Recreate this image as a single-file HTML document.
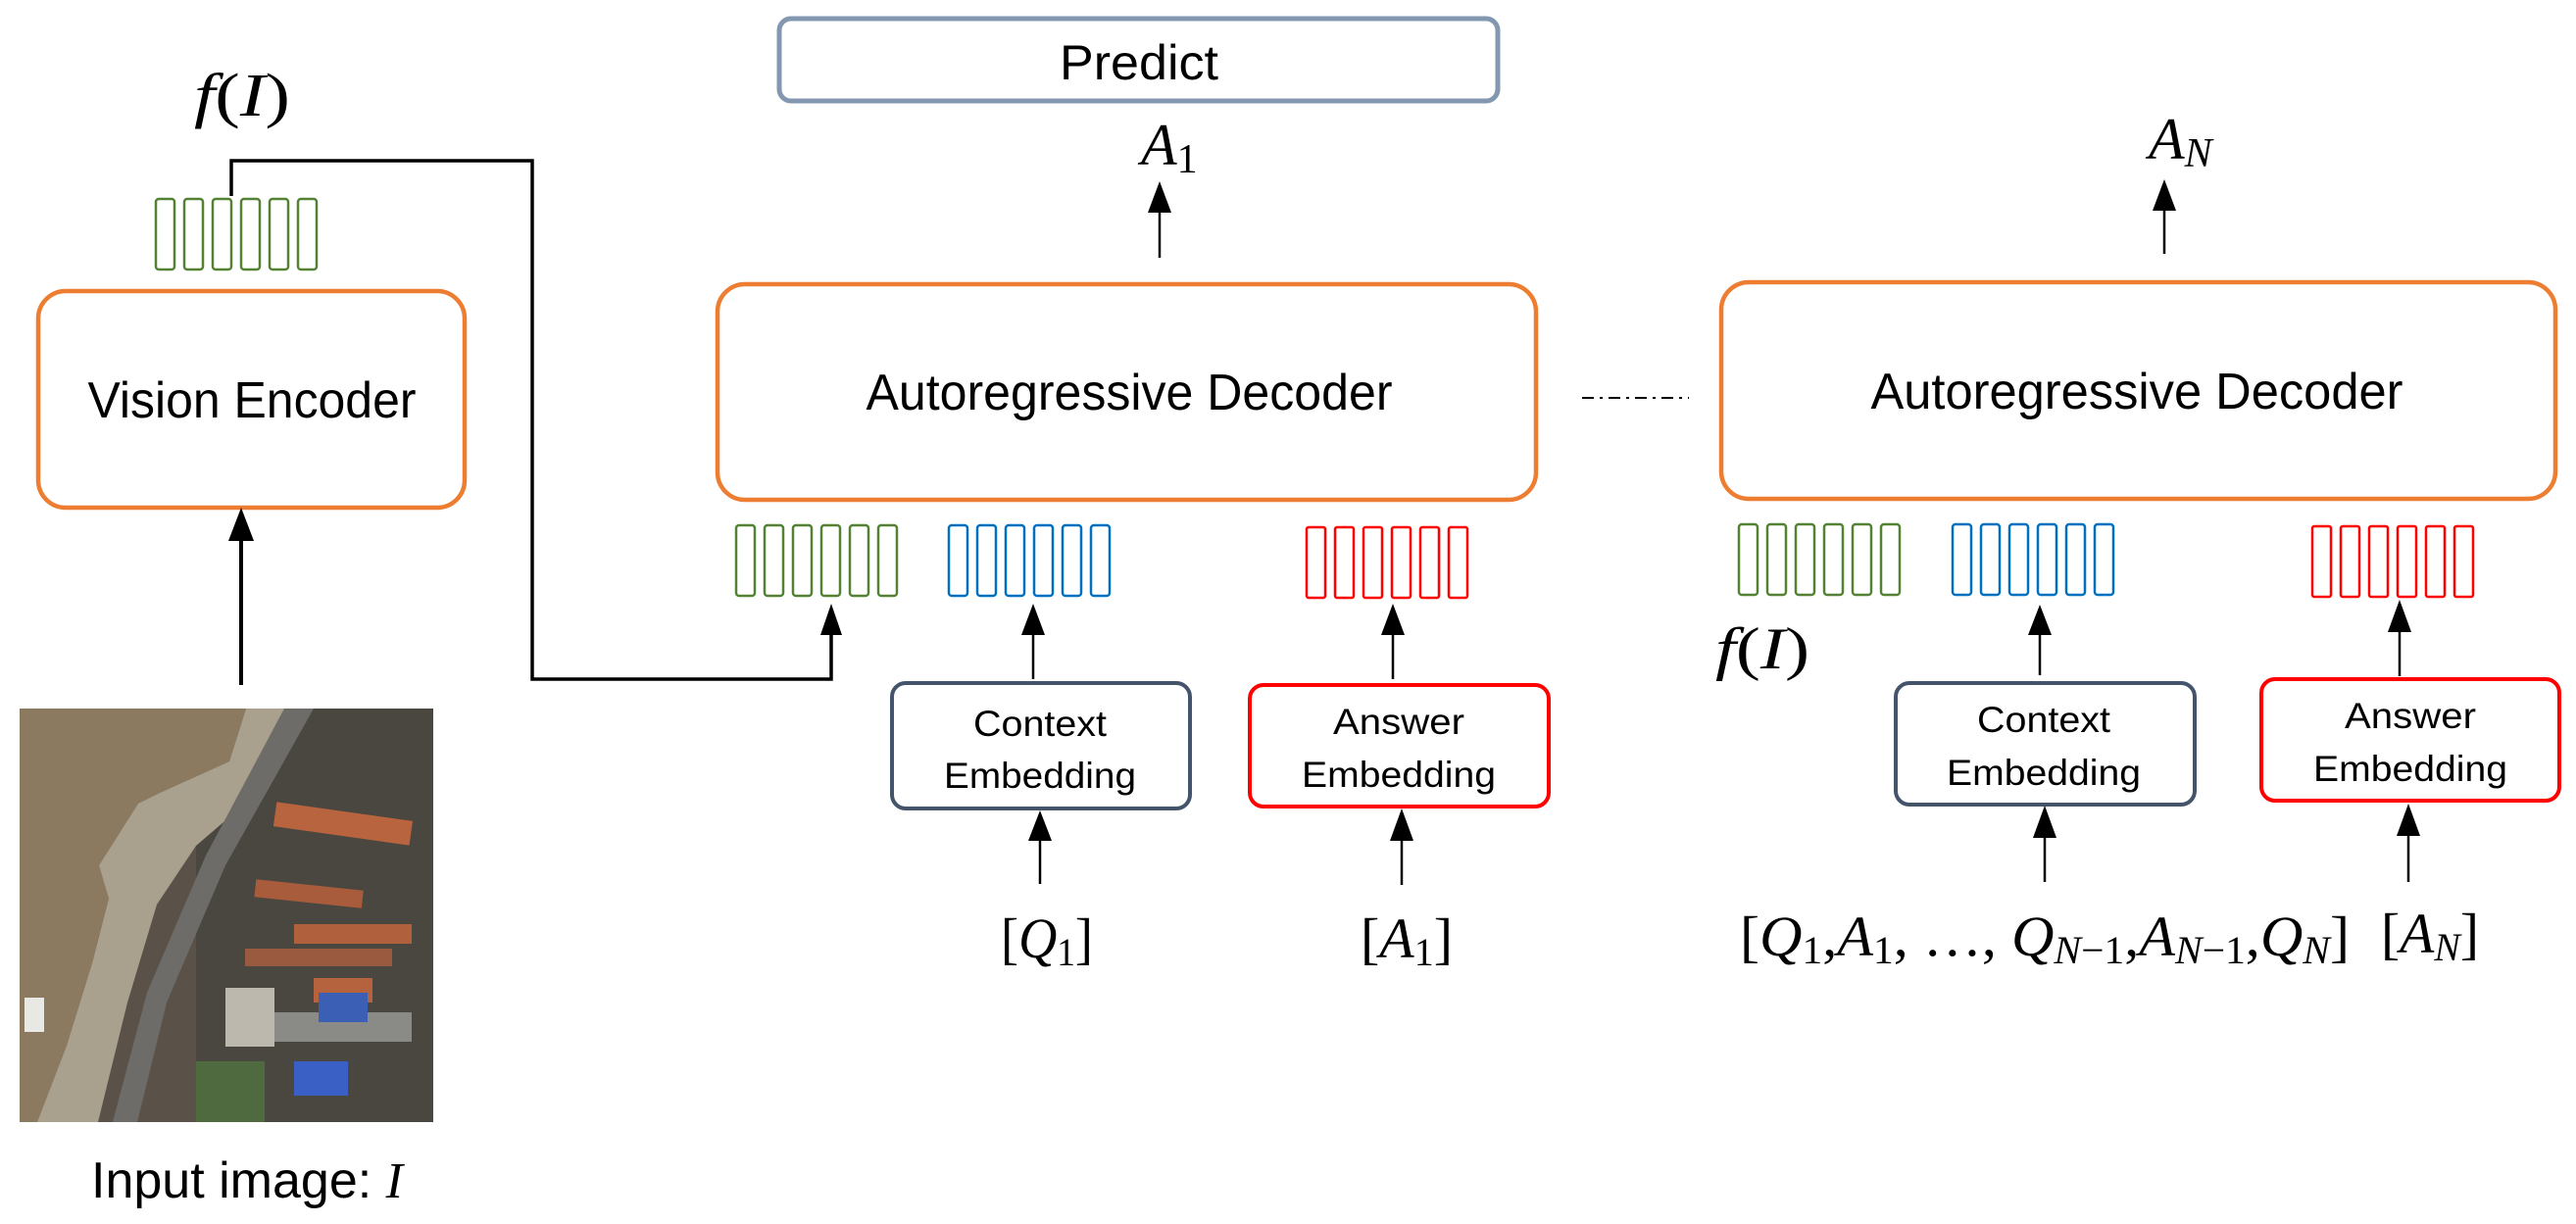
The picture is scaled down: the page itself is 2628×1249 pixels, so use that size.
<!DOCTYPE html>
<html><head><meta charset="utf-8"><style>html,body{margin:0;padding:0;background:#fff}svg{display:block}</style></head><body>
<svg width="2628" height="1249" viewBox="0 0 2628 1249" xmlns="http://www.w3.org/2000/svg">
<defs>
<g id="green"><rect x="0" y="0" width="19" height="72" rx="3" fill="none" stroke="#548235" stroke-width="2.5"/><rect x="29" y="0" width="19" height="72" rx="3" fill="none" stroke="#548235" stroke-width="2.5"/><rect x="58" y="0" width="19" height="72" rx="3" fill="none" stroke="#548235" stroke-width="2.5"/><rect x="87" y="0" width="19" height="72" rx="3" fill="none" stroke="#548235" stroke-width="2.5"/><rect x="116" y="0" width="19" height="72" rx="3" fill="none" stroke="#548235" stroke-width="2.5"/><rect x="145" y="0" width="19" height="72" rx="3" fill="none" stroke="#548235" stroke-width="2.5"/></g>
<g id="blue"><rect x="0" y="0" width="19" height="72" rx="3" fill="none" stroke="#0070c0" stroke-width="2.5"/><rect x="29" y="0" width="19" height="72" rx="3" fill="none" stroke="#0070c0" stroke-width="2.5"/><rect x="58" y="0" width="19" height="72" rx="3" fill="none" stroke="#0070c0" stroke-width="2.5"/><rect x="87" y="0" width="19" height="72" rx="3" fill="none" stroke="#0070c0" stroke-width="2.5"/><rect x="116" y="0" width="19" height="72" rx="3" fill="none" stroke="#0070c0" stroke-width="2.5"/><rect x="145" y="0" width="19" height="72" rx="3" fill="none" stroke="#0070c0" stroke-width="2.5"/></g>
<g id="red"><rect x="0" y="0" width="19" height="72" rx="2" fill="none" stroke="#ff0000" stroke-width="2.5"/><rect x="29" y="0" width="19" height="72" rx="2" fill="none" stroke="#ff0000" stroke-width="2.5"/><rect x="58" y="0" width="19" height="72" rx="2" fill="none" stroke="#ff0000" stroke-width="2.5"/><rect x="87" y="0" width="19" height="72" rx="2" fill="none" stroke="#ff0000" stroke-width="2.5"/><rect x="116" y="0" width="19" height="72" rx="2" fill="none" stroke="#ff0000" stroke-width="2.5"/><rect x="145" y="0" width="19" height="72" rx="2" fill="none" stroke="#ff0000" stroke-width="2.5"/></g>
</defs>

<!-- Input image -->
<g transform="translate(20,723)">
<rect x="0" y="0" width="422" height="422" fill="#5a5248"/>
<rect x="180" y="0" width="242" height="422" fill="#4a4640"/>
<polygon points="0,0 231,0 214,54 141,87 121,97 81,160 91,194 74,260 48,344 18,422 0,422" fill="#8c7a60"/>
<polygon points="231,0 290,0 250,80 180,140 140,200 110,300 80,422 18,422 48,344 74,260 91,194 81,160 121,97 141,87 214,54" fill="#a9a08e"/>
<polygon points="270,0 300,0 210,160 150,300 120,422 95,422 130,290 190,150" fill="#6e6c68"/>
<rect x="260" y="105" width="140" height="25" fill="#b8643e" transform="rotate(8 330 117)"/>
<rect x="240" y="180" width="110" height="18" fill="#a95c3c" transform="rotate(6 295 190)"/>
<rect x="280" y="220" width="120" height="20" fill="#b0603d"/>
<rect x="230" y="245" width="150" height="18" fill="#9a5a40"/>
<rect x="300" y="275" width="60" height="25" fill="#b5623f"/>
<rect x="260" y="310" width="140" height="30" fill="#8a8a86"/>
<rect x="305" y="290" width="50" height="30" fill="#3a5fb5"/>
<rect x="280" y="360" width="55" height="35" fill="#3a5fc5"/>
<rect x="180" y="360" width="70" height="62" fill="#4e6a3e"/>
<rect x="210" y="285" width="50" height="60" fill="#bcb8ae"/>
<rect x="5" y="295" width="20" height="35" fill="#e8e8e4"/>
</g>
<text x="252" y="1222" font-family="Liberation Sans, sans-serif" font-size="52" text-anchor="middle" textLength="318" lengthAdjust="spacingAndGlyphs">Input image: <tspan font-family="Liberation Serif, serif" font-style="italic">I</tspan></text>

<!-- Vision encoder -->
<rect x="39" y="297" width="435" height="221" rx="28" fill="none" stroke="#ed7d31" stroke-width="4.5"/>
<text x="257" y="426" font-family="Liberation Sans, sans-serif" font-size="52" text-anchor="middle" textLength="335" lengthAdjust="spacingAndGlyphs">Vision Encoder</text>
<line x1="246" y1="699" x2="246" y2="550" stroke="#000" stroke-width="4"/>
<polygon points="246,518 233,552 259,552" fill="#000"/>
<use href="#green" x="159" y="203"/>
<text x="247" y="118" font-family="Liberation Serif, serif" font-style="italic" font-size="62" text-anchor="middle" textLength="98" lengthAdjust="spacingAndGlyphs">f<tspan font-style="normal">(</tspan>I<tspan font-style="normal">)</tspan></text>

<!-- connector -->
<polyline points="236,200 236,164 543,164 543,693 848,693 848,646" fill="none" stroke="#000" stroke-width="3.5"/>
<polygon points="848,616 837,648 859,648" fill="#000"/>

<!-- Predict -->
<rect x="795" y="19" width="733" height="84" rx="12" fill="none" stroke="#8497b0" stroke-width="5"/>
<text x="1162" y="81" font-family="Liberation Sans, sans-serif" font-size="50" text-anchor="middle" textLength="162" lengthAdjust="spacingAndGlyphs">Predict</text>

<!-- A1 top -->
<text x="1164" y="168" font-family="Liberation Serif, serif" font-style="italic" font-size="60">A<tspan font-style="normal" font-size="42" dy="8">1</tspan></text>
<line x1="1183" y1="263" x2="1183" y2="212" stroke="#000" stroke-width="2.5"/>
<polygon points="1183,185 1171,217 1195,217" fill="#000"/>

<!-- Decoder 1 -->
<rect x="732" y="290" width="835" height="220" rx="28" fill="none" stroke="#ed7d31" stroke-width="4.5"/>
<text x="1152" y="418" font-family="Liberation Sans, sans-serif" font-size="52" text-anchor="middle" textLength="537" lengthAdjust="spacingAndGlyphs">Autoregressive Decoder</text>
<use href="#green" x="751" y="536"/>
<use href="#blue" x="968" y="536"/>
<use href="#red" x="1333" y="538"/>

<line x1="1054" y1="693" x2="1054" y2="645" stroke="#000" stroke-width="2.5"/>
<polygon points="1054,616 1042,648 1066,648" fill="#000"/>
<rect x="910" y="697" width="304" height="128" rx="14" fill="none" stroke="#44546a" stroke-width="4"/>
<text x="1061" y="751" font-family="Liberation Sans, sans-serif" font-size="37" text-anchor="middle" textLength="136" lengthAdjust="spacingAndGlyphs">Context</text>
<text x="1061" y="804" font-family="Liberation Sans, sans-serif" font-size="37" text-anchor="middle" textLength="196" lengthAdjust="spacingAndGlyphs">Embedding</text>
<line x1="1061" y1="902" x2="1061" y2="855" stroke="#000" stroke-width="2.5"/>
<polygon points="1061,827 1049,858 1073,858" fill="#000"/>
<text x="1068" y="977" font-family="Liberation Serif, serif" font-size="58" text-anchor="middle" textLength="94" lengthAdjust="spacingAndGlyphs">[<tspan font-style="italic">Q</tspan><tspan font-size="40" dy="8">1</tspan><tspan dy="-8">]</tspan></text>

<line x1="1421" y1="693" x2="1421" y2="645" stroke="#000" stroke-width="2.5"/>
<polygon points="1421,616 1409,648 1433,648" fill="#000"/>
<rect x="1275" y="699" width="305" height="124" rx="14" fill="none" stroke="#ff0000" stroke-width="4"/>
<text x="1427" y="749" font-family="Liberation Sans, sans-serif" font-size="37" text-anchor="middle" textLength="134" lengthAdjust="spacingAndGlyphs">Answer</text>
<text x="1427" y="803" font-family="Liberation Sans, sans-serif" font-size="37" text-anchor="middle" textLength="198" lengthAdjust="spacingAndGlyphs">Embedding</text>
<line x1="1430" y1="903" x2="1430" y2="855" stroke="#000" stroke-width="2.5"/>
<polygon points="1430,825 1418,858 1442,858" fill="#000"/>
<text x="1435" y="977" font-family="Liberation Serif, serif" font-size="58" text-anchor="middle" textLength="94" lengthAdjust="spacingAndGlyphs">[<tspan font-style="italic">A</tspan><tspan font-size="40" dy="8">1</tspan><tspan dy="-8">]</tspan></text>

<!-- dash-dot -->
<line x1="1614" y1="406" x2="1723" y2="406" stroke="#000" stroke-width="2" stroke-dasharray="12,6,3,6"/>

<!-- Decoder 2 -->
<text x="2192" y="162" font-family="Liberation Serif, serif" font-style="italic" font-size="60">A<tspan font-size="42" dy="8">N</tspan></text>
<line x1="2208" y1="259" x2="2208" y2="212" stroke="#000" stroke-width="2.5"/>
<polygon points="2208,183 2196,215 2220,215" fill="#000"/>
<rect x="1756" y="288" width="851" height="221" rx="28" fill="none" stroke="#ed7d31" stroke-width="4.5"/>
<text x="2180" y="417" font-family="Liberation Sans, sans-serif" font-size="52" text-anchor="middle" textLength="543" lengthAdjust="spacingAndGlyphs">Autoregressive Decoder</text>
<use href="#green" x="1774" y="535"/>
<use href="#blue" x="1992" y="535"/>
<use href="#red" x="2359" y="537"/>
<text x="1798" y="682" font-family="Liberation Serif, serif" font-style="italic" font-size="60" text-anchor="middle" textLength="96" lengthAdjust="spacingAndGlyphs">f<tspan font-style="normal">(</tspan>I<tspan font-style="normal">)</tspan></text>

<line x1="2081" y1="689" x2="2081" y2="645" stroke="#000" stroke-width="2.5"/>
<polygon points="2081,617 2069,648 2093,648" fill="#000"/>
<rect x="1934" y="697" width="305" height="124" rx="14" fill="none" stroke="#44546a" stroke-width="4"/>
<text x="2085" y="747" font-family="Liberation Sans, sans-serif" font-size="37" text-anchor="middle" textLength="136" lengthAdjust="spacingAndGlyphs">Context</text>
<text x="2085" y="801" font-family="Liberation Sans, sans-serif" font-size="37" text-anchor="middle" textLength="198" lengthAdjust="spacingAndGlyphs">Embedding</text>
<line x1="2086" y1="900" x2="2086" y2="852" stroke="#000" stroke-width="2.5"/>
<polygon points="2086,822 2074,855 2098,855" fill="#000"/>

<line x1="2448" y1="690" x2="2448" y2="642" stroke="#000" stroke-width="2.5"/>
<polygon points="2448,612 2436,645 2460,645" fill="#000"/>
<rect x="2307" y="693" width="304" height="124" rx="14" fill="none" stroke="#ff0000" stroke-width="4"/>
<text x="2459" y="743" font-family="Liberation Sans, sans-serif" font-size="37" text-anchor="middle" textLength="134" lengthAdjust="spacingAndGlyphs">Answer</text>
<text x="2459" y="797" font-family="Liberation Sans, sans-serif" font-size="37" text-anchor="middle" textLength="198" lengthAdjust="spacingAndGlyphs">Embedding</text>
<line x1="2457" y1="900" x2="2457" y2="850" stroke="#000" stroke-width="2.5"/>
<polygon points="2457,820 2445,853 2469,853" fill="#000"/>

<text x="1775" y="975" font-family="Liberation Serif, serif" font-size="58" textLength="622" lengthAdjust="spacingAndGlyphs">[<tspan font-style="italic">Q</tspan><tspan font-size="40" dy="8">1</tspan><tspan dy="-8">,</tspan><tspan font-style="italic">A</tspan><tspan font-size="40" dy="8">1</tspan><tspan dy="-8">, …, </tspan><tspan font-style="italic">Q</tspan><tspan font-size="40" font-style="italic" dy="8">N</tspan><tspan font-size="40">−1</tspan><tspan dy="-8">,</tspan><tspan font-style="italic">A</tspan><tspan font-size="40" font-style="italic" dy="8">N</tspan><tspan font-size="40">−1</tspan><tspan dy="-8">,</tspan><tspan font-style="italic">Q</tspan><tspan font-size="40" font-style="italic" dy="8">N</tspan><tspan dy="-8">]</tspan></text>
<text x="2429" y="972" font-family="Liberation Serif, serif" font-size="58" textLength="100" lengthAdjust="spacingAndGlyphs">[<tspan font-style="italic">A</tspan><tspan font-size="40" font-style="italic" dy="8">N</tspan><tspan dy="-8">]</tspan></text>
</svg>
</body></html>
